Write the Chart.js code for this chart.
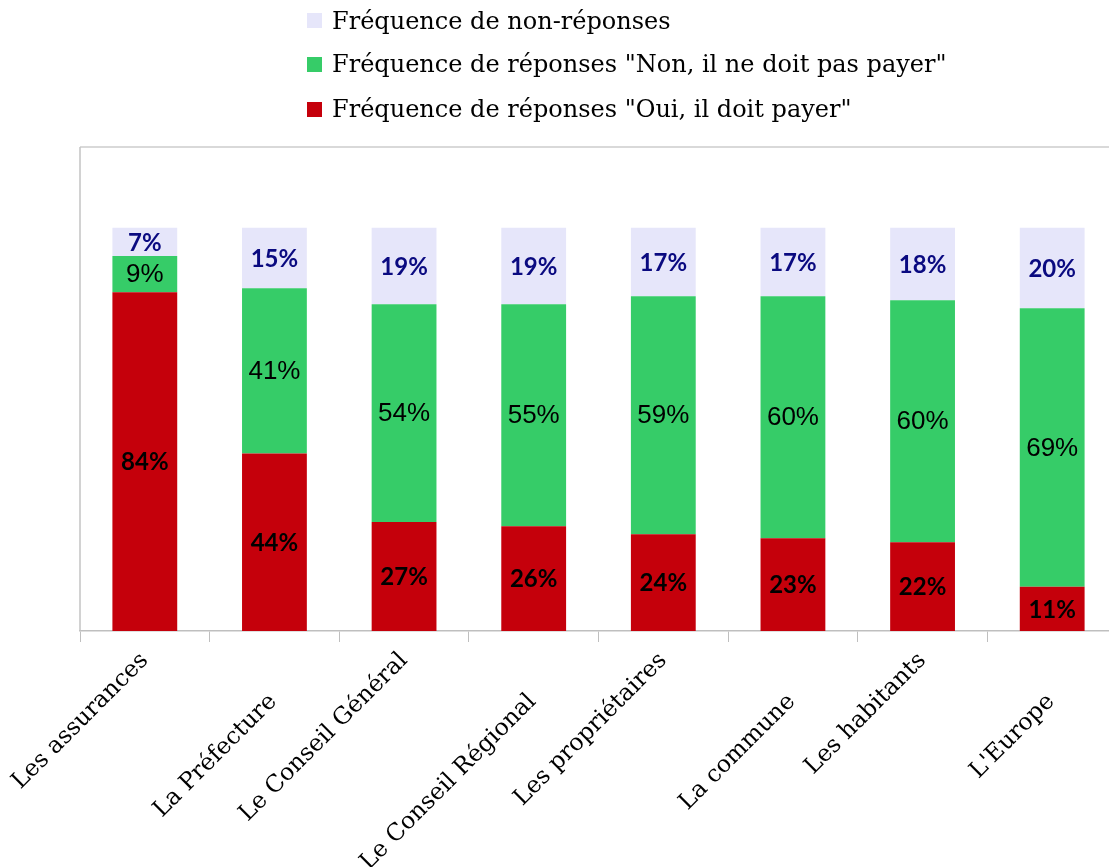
<!DOCTYPE html>
<html>
<head>
<meta charset="utf-8">
<script src="https://cdn.jsdelivr.net/npm/chart.js@4.4.1/dist/chart.umd.min.js"></script>
<style>
    html, body { margin: 0; padding: 0; overflow: hidden; background: #fff; }
    #wrap { position: relative; width: 1117px; height: 867px; }
    #legend { position: absolute; left: 307px; top: 0; font-family: 'DejaVu Serif', serif; font-size: 24px; color: #000; }
    .legend-item { position: absolute; left: 0; height: 44px; display: flex; align-items: center; white-space: nowrap; }
    .legend-box { width: 15px; height: 15px; margin-right: 10px; flex: none; }
</style>
</head>
<body>
<div id="wrap">
    <canvas id="stackChart"></canvas>
    <div id="legend"></div>
</div>
<script>
const categories = ['Les assurances', 'La Préfecture', 'Le Conseil Général', 'Le Conseil Régional',
    'Les propriétaires', 'La commune', 'Les habitants', "L'Europe"];
const ouiValues = [84, 44, 27, 26, 24, 23, 22, 11];
const nonValues = [9, 41, 54, 55, 59, 60, 60, 69];
const sansReponseValues = [7, 15, 19, 19, 17, 17, 18, 20];
const seriesNames = ['Fréquence de réponses "Oui, il doit payer"',
    'Fréquence de réponses "Non, il ne doit pas payer"',
    'Fréquence de non-réponses'];

// font / colour of the value written inside each segment, per dataset
const labelStyles = [
    { font: 'bold 24px Lato', color: '#000000' },
    { font: '26px "Liberation Sans"', color: '#000000' },
    { font: 'bold 24px Lato', color: '#0a0a80' }
];

const segmentLabels = {
    id: 'segmentLabels',
    afterDatasetsDraw(chart) {
        const ctx = chart.ctx;
        chart.data.datasets.forEach((ds, i) => {
            const meta = chart.getDatasetMeta(i);
            const style = labelStyles[i];
            ctx.save();
            ctx.font = style.font;
            ctx.fillStyle = style.color;
            ctx.textAlign = 'center';
            ctx.textBaseline = 'middle';
            meta.data.forEach((bar, j) => {
                const p = bar.getProps(['x', 'y', 'base'], true);
                ctx.fillText(ds.data[j] + '%', p.x, (p.y + p.base) / 2 + 1);
            });
            ctx.restore();
        });
    }
};

// light frame round the plot area (top, left, right)
const plotFrame = {
    id: 'plotFrame',
    beforeDatasetsDraw(chart) {
        const { ctx, chartArea: a } = chart;
        ctx.save();
        ctx.strokeStyle = '#d9d9d9';
        ctx.lineWidth = 2;
        ctx.beginPath();
        ctx.moveTo(a.left, a.top);
        ctx.lineTo(a.right, a.top);
        ctx.stroke();
        ctx.strokeStyle = '#c4c4c4';
        ctx.lineWidth = 1.5;
        ctx.beginPath();
        ctx.moveTo(a.left, a.top);
        ctx.lineTo(a.left, a.bottom);
        ctx.moveTo(a.right, a.top);
        ctx.lineTo(a.right, a.bottom);
        ctx.stroke();
        ctx.restore();
    }
};

const chart = new Chart(document.getElementById('stackChart'), {
    type: 'bar',
    data: {
        labels: categories,
        datasets: [
            { label: seriesNames[0], data: ouiValues, backgroundColor: '#c5000b' },
            { label: seriesNames[1], data: nonValues, backgroundColor: '#36cc68' },
            { label: seriesNames[2], data: sansReponseValues, backgroundColor: '#e6e6fa' }
        ]
    },
    options: {
        responsive: true,
        maintainAspectRatio: false,
        animation: false,
        categoryPercentage: 0.5,
        barPercentage: 1,
        layout: { padding: { left: 80, top: 147, right: 0, bottom: 0 } },
        plugins: {
            legend: { display: false },
            tooltip: { enabled: false }
        },
        scales: {
            x: {
                stacked: true,
                grid: { display: true, drawOnChartArea: false, drawTicks: true, tickLength: 11, color: '#bfbfbf', offset: true },
                border: { display: true, color: '#bfbfbf', width: 1.5 },
                ticks: {
                    autoSkip: false,
                    minRotation: 45,
                    maxRotation: 45,
                    padding: 5,
                    color: '#000',
                    font: { family: "'DejaVu Serif'", size: 23.5 },
                    // every second label sits lower, as in the original
                    callback: (value, index) => index % 2 ? ['', categories[index] + '    '] : categories[index]
                },
                afterFit: scale => { scale.height = 236; }
            },
            y: {
                stacked: true,
                display: false,
                min: 0,
                max: 120
            }
        }
    },
    plugins: [plotFrame, segmentLabels]
});

// legend built from the chart's own legend items, shown top-down
const legendEl = document.getElementById('legend');
const items = Chart.defaults.plugins.legend.labels.generateLabels(chart).reverse();
const rowCenters = [20.5, 64, 109];
items.forEach((item, i) => {
    const row = document.createElement('div');
    row.className = 'legend-item';
    row.style.top = (rowCenters[i] - 22) + 'px';
    const box = document.createElement('span');
    box.className = 'legend-box';
    box.style.background = item.fillStyle;
    const text = document.createElement('span');
    text.textContent = item.text;
    row.appendChild(box);
    row.appendChild(text);
    legendEl.appendChild(row);
});
</script>
</body>
</html>
